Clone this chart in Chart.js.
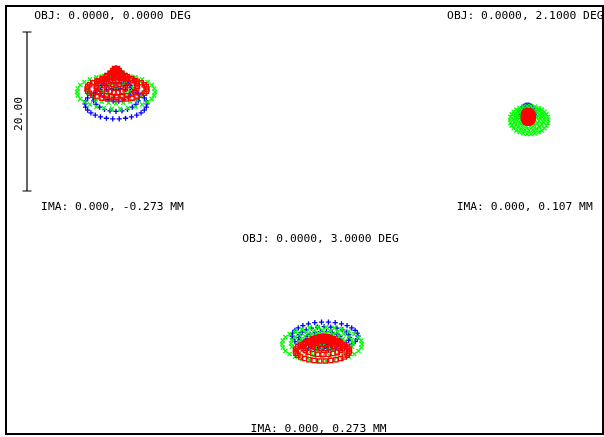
<!DOCTYPE html>
<html><head><meta charset="utf-8">
<script src="https://cdn.jsdelivr.net/npm/chart.js@4.4.0/dist/chart.umd.min.js"></script>
<style>html,body{margin:0;padding:0;background:#fff;overflow:hidden}#wrap{position:relative;width:604px;height:437px}</style>
</head><body><div id="wrap"><canvas id="c" width="604" height="437"></canvas></div>
<script>
// ---------- DATA (µm) ----------
const fieldObjLabels = ['OBJ: 0.0000, 0.0000 DEG', 'OBJ: 0.0000, 2.1000 DEG', 'OBJ: 0.0000, 3.0000 DEG'];
const fieldImaLabels = ['IMA: 0.000, -0.273 MM', 'IMA: 0.000, 0.107 MM', 'IMA: 0.000, 0.273 MM'];
const scaleBarLabel = '20.00';
const scaleBarMicrons = 20;
// ray rings per field & wavelength: [dx, dy, rx, ry, rays] relative to the field reference, µm
const f1Blue  = [[0,3.4,0,0,1],[0,2.7,0.45,0.6,6],[0,1.8,1.1,1.15,12],[0,0.7,2.0,1.5,18],[0,-0.3,2.9,1.75,24],[0,-1.13,3.90,1.89,30]];
const f1Green = [[0,3.3,0,0,1],[0,2.7,0.5,0.6,6],[0,2.0,1.3,1.0,12],[0,1.3,2.3,1.4,18],[0,0.75,3.6,1.8,24],[0,0.38,4.91,2.14,30]];
const f1Red   = [[0,3.3,0,0,1],[0,2.8,0.35,0.6,6],[0,2.2,0.8,1.0,12],[0,1.6,1.5,1.3,18],[0.1,1.1,2.6,1.38,24],[0.13,0.75,3.77,1.32,30]];
const f2Blue  = [[0,0.9,0,0,1],[0,0.85,0.18,0.2,6],[0,0.75,0.36,0.4,12],[0,0.65,0.55,0.6,18],[0,0.55,0.72,0.82,24],[-0.06,0.5,0.88,1.0,30]];
const f2Green = [[0,0.15,0,0,1],[0,0.12,0.5,0.37,6],[0,0,1.0,0.72,12],[0.05,-0.12,1.45,1.07,18],[0.1,-0.25,1.9,1.42,24],[0.13,-0.38,2.39,1.76,30]];
const f2Red   = [[0,0.45,0,0,1],[0,0.4,0.15,0.2,6],[0,0.3,0.3,0.35,12],[0,0.2,0.42,0.5,18],[0.03,0.1,0.52,0.64,24],[0.03,0,0.6,0.76,30]];
const f3Blue  = [[0,0.1,0,0,1],[0.05,0.2,0.5,0.3,6],[0.1,0.35,1.3,0.6,12],[0.18,0.5,2.2,0.95,18],[0.28,0.7,3.2,1.35,24],[0.38,0.88,4.15,1.76,30]];
const f3Green = [[0,0.4,0,0,1],[0,0.3,0.7,0.45,6],[0,0.2,1.7,0.85,12],[0,0.08,2.8,1.2,18],[0,-0.05,3.9,1.65,24],[0,-0.13,5.03,2.14,30]];
const f3Red   = [[0.25,0.65,0,0,1],[0.25,0.55,0.45,0.25,6],[0.22,0.35,1.0,0.5,12],[0.18,0.05,1.7,0.75,18],[0.12,-0.45,2.55,1.0,24],[0.06,-1.01,3.40,1.26,30]];

// ---------- LAYOUT ----------
const PX_PER_UM = 7.95;
const fieldCenters = [[13.96, 42.77], [65.79, 40.00], [39.87, 11.57]]; // µm in page coordinates
const objLabelPos = [[112.5, 15.8], [525.3, 15.8], [320.5, 239]];
const imaLabelPos = [[112.5, 207.5], [524.7, 207.5], [318.6, 429.5]];
const bar = {x: 27, yCenter: 111.5, tick: 4.5, labelX: 19, labelY: 114};
const FONT = '11.3px "DejaVu Sans Mono"';

const fieldRings = [[f1Blue, f1Green, f1Red], [f2Blue, f2Green, f2Red], [f3Blue, f3Green, f3Red]];
const styles = [
  {color: '#0000ff', pointStyle: 'cross', r: 2.6, order: 2},
  {color: '#00ff00', pointStyle: 'crossRot', r: 2.9, order: 1},
  {color: '#ff0000', pointStyle: 'rect', r: 3.0, order: 0}
];

function ringPoints(center, rings) {
  const pts = [];
  rings.forEach(([dx, dy, rx, ry, n]) => {
    for (let k = 0; k < n; k++) {
      const t = 2 * Math.PI * k / n;
      pts.push({x: center[0] + dx + rx * Math.cos(t), y: center[1] + dy + ry * Math.sin(t)});
    }
  });
  return pts;
}

const datasets = [];
fieldRings.forEach((wl, fi) => {
  wl.forEach((rings, wi) => {
    const s = styles[wi];
    datasets.push({
      data: ringPoints(fieldCenters[fi], rings),
      pointStyle: s.pointStyle, pointRadius: s.r, pointHoverRadius: s.r,
      borderColor: s.color, pointBorderColor: s.color, backgroundColor: 'rgba(0,0,0,0)',
      pointBackgroundColor: 'rgba(0,0,0,0)', pointBorderWidth: 1.3, order: s.order, showLine: false
    });
  });
});

const decor = {
  id: 'decor',
  afterDraw(chart) {
    const ctx = chart.ctx, ys = chart.scales.y;
    ctx.save();
    ctx.fillStyle = '#000';
    ctx.font = FONT;
    ctx.textAlign = 'center';
    ctx.textBaseline = 'middle';
    fieldObjLabels.forEach((t, i) => ctx.fillText(t, objLabelPos[i][0], objLabelPos[i][1]));
    fieldImaLabels.forEach((t, i) => ctx.fillText(t, imaLabelPos[i][0], imaLabelPos[i][1]));
    // scale bar
    const len = Math.abs(ys.getPixelForValue(0) - ys.getPixelForValue(scaleBarMicrons));
    const top = bar.yCenter - len / 2, bot = bar.yCenter + len / 2;
    ctx.strokeStyle = '#000';
    ctx.lineWidth = 1.2;
    ctx.beginPath();
    ctx.moveTo(bar.x, top); ctx.lineTo(bar.x, bot);
    ctx.moveTo(bar.x - bar.tick, top); ctx.lineTo(bar.x + bar.tick, top);
    ctx.moveTo(bar.x - bar.tick, bot); ctx.lineTo(bar.x + bar.tick, bot);
    ctx.stroke();
    ctx.save();
    ctx.translate(bar.labelX, bar.labelY);
    ctx.rotate(-Math.PI / 2);
    ctx.fillText(scaleBarLabel, 0, 0);
    ctx.restore();
    // frame
    const a = chart.chartArea;
    ctx.lineWidth = 2;
    ctx.strokeRect(a.left + 1, a.top + 1, a.right - a.left - 2, a.bottom - a.top - 2);
    ctx.restore();
  }
};

new Chart(document.getElementById('c'), {
  type: 'scatter',
  data: {datasets},
  options: {
    responsive: false, animation: false, devicePixelRatio: 1,
    layout: {autoPadding: false, padding: {left: 5, top: 5, right: 0, bottom: 2}},
    scales: {
      x: {type: 'linear', min: 0, max: 599 / PX_PER_UM, display: false},
      y: {type: 'linear', min: 0, max: 430 / PX_PER_UM, display: false}
    },
    plugins: {legend: {display: false}, tooltip: {enabled: false}},
    events: []
  },
  plugins: [decor]
});
</script></body></html>
